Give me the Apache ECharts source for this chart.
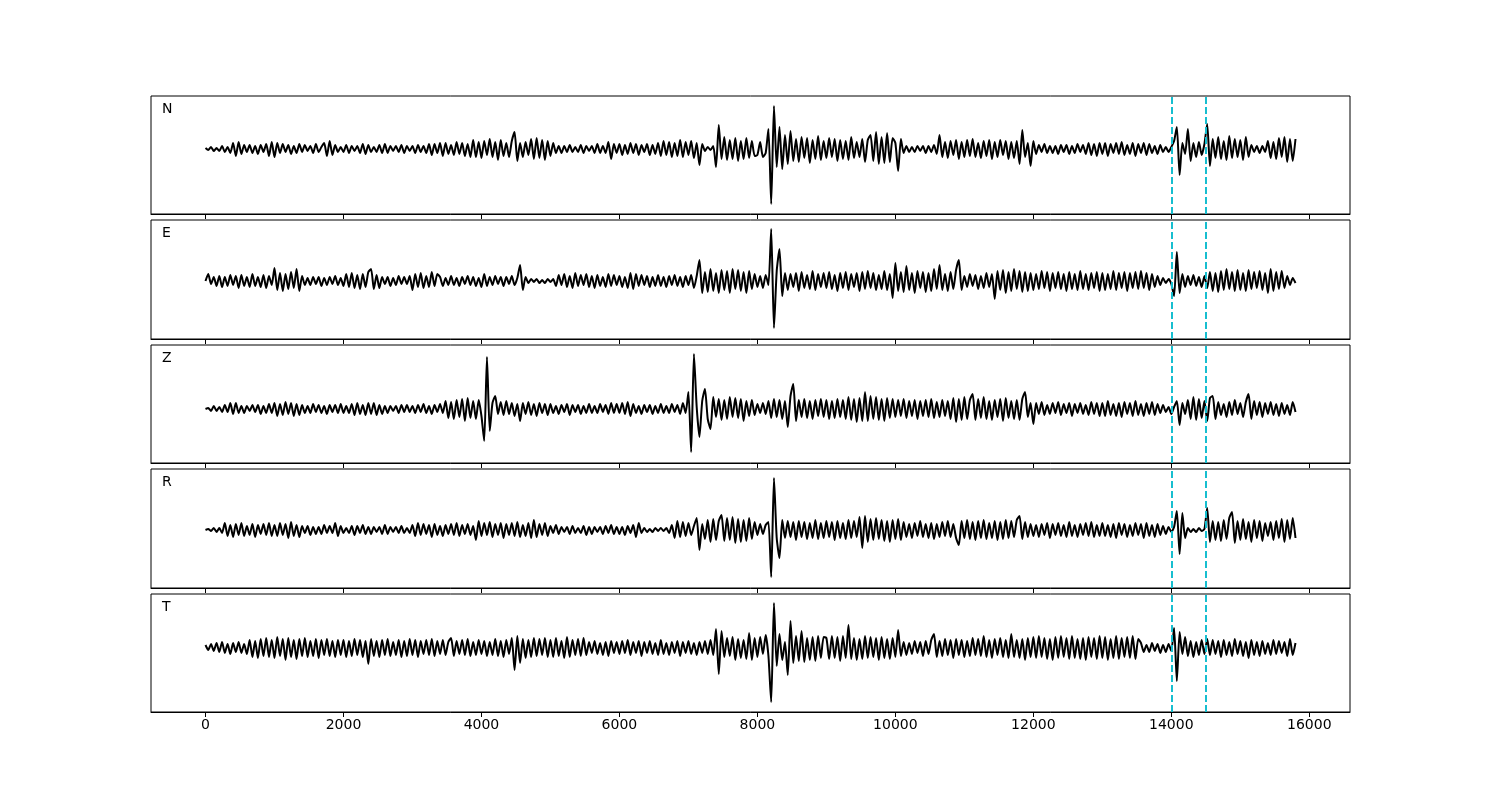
<!DOCTYPE html>
<html><head><meta charset="utf-8">
<script src="https://cdn.jsdelivr.net/npm/echarts@6/dist/echarts.min.js"></script>
<style>html,body{margin:0;padding:0;background:#fff}#c{width:1500px;height:800px}</style>
</head><body><div id="c"></div>
<script>
// sample spacing of the traces (x units)
const step = 40;
const channels = ['N', 'E', 'Z', 'R', 'T'];
const markers = [14000, 14500];
const xTicks = [0, 2000, 4000, 6000, 8000, 10000, 12000, 14000, 16000];

const traceN = [
 1,-1,2,-2,1, -2,3,-3,2,-4, 6,-7,7,-5,4, -3,4,-4,3,-5, 4,-3,5,-7,7,
 -8,6,-4,5,-3, 4,-5,3,-4,5, -3,4,-2,3,-4, 5,-3,2,6,-7, 8,-6,4,-3,2,
 -3,4,-4,3,-2, 3,-4,5,-5,4, -3,2,-3,4,-4, 5,-4,3,-2,3, -3,4,-4,3,-2,
 3,-4,4,-3,3, -4,5,-6,5,-4, 6,-7,6,-5,4, -6,7,-5,6,-7, 5,-8,9,-8,7,
 -9,8,-6,10,-8, 7,-11,9,-7,6, -8,8,17,-12,6, -8,7,-6,10,-10, 11,-9,9,-11,8,
 -7,6,-4,3,-4, 3,-3,4,-3,2, -3,4,-4,3,-2, 3,-4,5,-4,3, -4,7,-10,5,-4,
 5,-6,4,-5,6, -4,5,-6,4,-3, 5,-6,4,-5,6, -7,8,-6,7,-8, 6,-7,9,-8,7,
 -6,8,-9,6,-16, 5,-2,2,-1,3, -18,24,-10,12,-11, 9,-10,11,-12,8, -10,11,-9,8,-7,
 -6,7,-8,-4,20, -55,43,-18,22,-20, 14,-15,18,-12,10, -13,12,-9,11,-14, 9,-10,13,-11,8,
 -9,11,-8,10,-12, 9,-10,8,-11,12, -9,7,-8,10,-13, 9,14,-12,17,-15, 12,-14,16,-13,11,
 6,-22,10,-4,3, -3,2,-3,3,-2, 3,-4,3,-3,4, -5,14,-8,7,-9, 8,-6,9,-10,7,
 -8,9,-7,10,-8, 6,-9,8,-7,9, -10,7,-8,9,-6, 8,-10,7,-9,8, -15,19,-8,6,-17,
 8,-5,4,-3,5, -4,3,-4,3,-5, 4,-3,4,-5,3, -4,5,-3,4,-5, 6,-6,5,-7,6,
 -5,6,-7,5,-4, 6,-5,7,-6,4, -5,6,-7,5,-4, 6,-6,5,-4,3, -5,4,-3,2,-3,
 2,8,22,-26,6, -5,20,-12,6,-8, 7,-6,5,25,-17, 10,-9,12,-10,8, -11,13,-9,10,-8,
 9,-11,12,-8,4, -3,3,-4,3,-3, 8,-9,7,-10,11, -8,12,-13,10,-12, 10
];

const traceE = [
 0,7,-3,4,-5, 5,-6,4,-5,6, -4,5,-7,6,-5, 4,-6,7,-5,4, -6,6,-7,5,-4,
 13,-9,8,-10,7, -8,9,-7,12,-10, 5,-4,3,-4,4, -3,4,-5,3,-4, 4,-3,5,-4,3,
 -5,7,-6,8,-7, 6,-8,7,-6,9, 12,-8,6,-7,4, -3,4,-5,3,-4, 5,-3,4,-3,5,
 -9,7,-6,8,-7, 5,-6,9,-5,7, 4,-5,3,-4,5, -4,3,-5,4,-3, 5,-4,4,-5,3,
 -6,7,-5,4,-4, 5,-3,4,-5,4, -3,5,-4,3,16, -9,4,-2,2,-1, 2,-2,1,-2,2,
 -1,2,-5,6,-4, 7,-6,5,-7,8, -5,6,-4,7,-6, 5,-7,6,-5,4, -6,7,-5,6,-4,
 5,-6,4,-7,8, -8,7,-5,6,-4, 5,-6,4,-5,6, -5,4,-6,5,-4, 6,-5,4,-6,5,
 -4,6,-7,5,21, -12,9,-11,12,-10, 8,-12,11,-9,10, -12,12,-8,11,-10, 9,-12,10,-8,7,
 -6,5,-7,6,-4, 52,-47,10,32,-15, 8,-9,7,-6,8, -10,9,-7,6,-8, 10,-9,7,-6,8,
 -7,9,-8,6,-10, 8,-7,9,-9,7, -6,8,-10,9,-8, 10,-7,8,-9,6, -8,10,-9,7,-17,
 18,-10,9,-11,15, -9,8,-12,10,-7, 9,-11,8,-10,12, -8,16,-9,7,-10, 9,-8,11,21,-9,
 5,-6,7,-5,6, -8,5,-7,8,-6, 7,-18,10,-9,11, -12,9,-10,12,-8, 10,-11,9,-10,8,
 -9,7,-8,10,-7, 9,-10,8,-7,9, -8,7,-10,9,-8, 7,-9,10,-8,7, -9,8,-7,9,-10,
 8,-9,7,-8,10, -9,8,-7,9,-10, 8,-7,9,-8,10, -7,8,-9,7,-6, 5,-4,3,-2,2,
 -3,-15,29,-12,7, -6,5,-4,6,-5, 4,-6,5,-7,9, -10,8,-11,10,-9, 12,-8,9,-10,11,
 -9,8,-10,11,-8, 9,-7,10,-9,8, -12,12,-10,9,-8, 10,-7,5,-4,3, -2
];

const traceZ = [
 0,1,-2,3,-2, 2,-3,4,-3,6, -5,6,-4,3,-4, 3,-2,4,-3,4, -5,3,-4,5,-4,
 6,-7,5,-6,7, -5,6,-7,5,-6, 4,-4,3,-4,5, -3,4,-4,3,-5, 4,-3,4,-4,5,
 -4,3,-4,5,-6, 6,-5,4,-6,6, -5,6,-6,4,-5, 3,-4,3,-2,3, -4,4,-3,4,-3,
 3,-4,4,-3,5, -4,3,-5,4,-3, 5,-4,8,-9,7, -10,9,-8,10,-12, 11,-9,8,-10,9,
 -7,-32,52,-22,6, 13,-5,7,-6,8, -5,6,-7,5,-12, 6,-5,7,-6,5, -7,6,-4,5,-6,
 5,-4,3,-5,4, -3,5,-6,4,-3, 4,-5,3,-4,5, -4,3,-4,5,-3, 4,-5,6,-4,5,
 -4,6,-5,7,-7, 5,-4,3,-5,4, -3,4,-5,3,-4, 5,-4,3,-4,5, -3,4,-5,6,-4,
 17,-43,55,2,-28, 8,20,-10,-20,12, -8,10,-11,9,-10, 12,-8,11,-9,10, -12,8,-7,9,-6,
 5,-4,6,-5,8, -9,10,-8,9,-10, 8,-18,13,25,-12, 9,-8,10,-9,8, -10,9,-7,10,-8,
 9,-10,8,-9,10, -8,9,-10,12,-11, 10,-13,11,-12,17, -12,13,-10,12,-11, 10,-12,11,-9,10,
 -8,9,-7,10,-9, 8,-7,9,-10,8, -7,9,-8,10,-9, 7,-8,9,-7,8, -10,11,-13,10,-11,
 12,-10,9,15,-11, 10,-9,12,-10,8, -11,9,-8,10,-12, 11,-9,8,-10,9, -11,10,17,-8,6,
 -15,6,-5,7,-6, 4,-5,6,-4,7, -6,5,-4,6,-7, 5,-4,6,-5,4, -6,7,-5,6,-7,
 6,-7,8,-6,5, -7,6,-8,7,-5, 6,-7,8,-6,5, -7,6,-5,7,-6, 5,-4,4,-3,2,
 -5,2,8,-16,6, -5,9,-10,12,-11, 10,-9,8,-12,11, 13,-10,7,-6,5, -8,7,-6,9,-5,
 6,-8,7,15,-10, 8,-6,7,-8,6, -5,7,-6,5,-7, 6,-5,4,-6,7, -3
];

const traceR = [
 0,1,-1,2,-2, 2,-3,7,-6,5, -7,6,-5,7,-6, 4,-5,6,-7,5, -4,6,-5,7,-6,
 5,-6,7,-5,6, -8,8,-6,5,-7, 4,-3,4,-5,3, -4,3,-4,5,-3, 4,-3,7,-6,4,
 -3,2,-3,4,-5, 4,-3,5,-4,3, -4,3,-2,3,-4, 5,-4,3,-2,3, -3,4,-3,2,-3,
 5,-6,7,-5,6, -4,5,-7,6,-5, 4,-6,5,-4,6, -5,7,-6,5,-4, 6,-5,4,-10,9,
 -6,7,-5,8,-7, 6,-5,7,-8,6, -5,7,-6,8,-7, 5,-6,7,-8,10, -7,6,-5,7,-6,
 4,-3,5,-4,3, -2,3,-4,4,-3, 2,-3,4,-5,3, -4,3,-2,3,-4, 4,-3,5,-4,3,
 -4,3,-5,4,-3, 5,-7,7,-3,2, -2,1,-2,2,-1, 2,-1,2,-3,5, -8,9,-7,8,-6,
 7,-5,4,12,-20, 6,-9,10,-12,11, -10,9,15,-11,12, -10,13,-13,11,-12, 10,-11,12,-9,8,
 -5,6,-4,5,8, -47,52,-8,-28,10, -8,9,-7,8,-10, 9,-7,8,-9,7, -8,10,-9,7,-8,
 9,-7,8,-10,9, -8,7,-9,10,-8, 9,-7,13,-18,14, -12,11,-10,12,-9, 10,-11,9,-12,10,
 -9,11,-10,8,-7, 6,-8,7,-6,9, -7,6,-8,7,-9, 6,-7,8,-6,9, -7,6,-8,-15,9,
 -8,10,-9,8,-10, 9,-8,10,-9,7, -8,9,-10,8,-9, 10,-8,9,-7,10, 14,-9,8,-7,6,
 -6,5,-7,6,-5, 7,-8,6,-5,7, -6,5,-7,8,-6, 5,-7,6,-5,7, -6,8,-7,5,-6,
 7,-6,5,-7,6, -8,7,-5,6,-7, 5,-6,7,-5,6, -8,7,-6,5,-7, 6,-5,4,-4,3,
 -2,3,19,-24,17, -8,2,-2,1,-2, 2,-1,1,22,-12, 9,-10,8,-11,10, -9,12,18,-13,9,
 -10,11,-9,8,-12, 10,-8,9,-11,7, -6,8,-10,9,-8, 11,-12,10,-9,12, -8
];

const traceT = [
 3,-2,4,-3,5, -4,6,-5,4,-6, 5,-4,6,-5,4, -6,8,-9,7,-10, 9,-8,10,-9,8,
 -10,11,-8,9,-12, 10,-9,8,-11,9, -8,10,-9,7,-8, 9,-10,8,-7,9, -8,7,-9,8,-7,
 8,-9,7,-8,9, -7,8,-9,7,-16, 9,-8,7,-9,8, -7,9,-8,6,-7, 8,-9,7,-8,9,
 -7,8,-9,7,-6, 8,-7,9,-8,7, -6,8,-7,6,10, -8,7,-6,8,-7, 9,-8,6,-7,8,
 -6,7,-8,6,-7, 9,-8,7,-9,8, -6,10,-22,12,-15, 9,-10,8,-9,10, -8,9,-7,10,-9,
 8,-9,10,-8,7, -10,11,-9,8,-7, 9,-8,10,-7,6, -5,7,-6,5,-7, 6,-8,7,-5,6,
 -6,7,-5,8,-7, 6,-5,7,-8,6, -5,7,-6,5,-7, 8,-6,5,-7,6, -5,7,-8,6,-5,
 7,-6,5,-7,6, -5,7,-6,8,-7, 19,-26,17,-9,10, -8,11,-12,9,-10, 8,-11,15,-12,10,
 -9,11,-6,13,-8, -54,45,-18,14,-12, 6,-27,27,-15,12, -13,17,-14,10,-12, 11,-13,12,-10,11,
 10,-11,12,-10,11, -13,12,-10,23,-11, 10,-12,9,-11,12, -10,11,-9,10,-12, 11,-10,9,-11,10,
 -9,18,-8,6,-7, 5,-6,7,-5,6, -8,7,-6,8,14, -9,7,-8,9,-7, 8,-10,9,-7,8,
 -9,7,-8,10,-7, 9,-8,12,-9,8, -10,9,-7,10,-9, 8,-10,14,-9,8, -10,9,-12,10,-9,
 11,-10,12,-9,10, -11,9,-12,11,-10, 12,-9,10,-11,12, -10,9,-11,10,-12, 11,-9,10,-11,12,
 -10,11,-12,9,-10, 12,-11,10,-9,11, -10,12,-11,9,5, -4,3,-4,5,-3, 4,-5,3,-4,4,
 -3,20,-33,16,-6, 11,-8,7,-9,6, -7,8,-6,9,-7, 8,-6,7,-9,8, -7,6,-8,9,-6,
 7,-8,6,-10,8, -7,6,-8,7,-6, 5,-7,8,-6,7, -5,6,-8,9,-7, 5
];

const traces = [traceN, traceE, traceZ, traceR, traceT];

// layout (pixels)
const tops = [96, 220, 345, 469, 594];
const heights = [118, 119, 118, 119, 118];
const yRanges = [[-65, 53], [-58, 61], [-54, 64], [-58, 61], [-64, 54]];
const FONT = 'DejaVu Sans';

const grids = [], xAxes = [], yAxes = [], series = [], graphics = [];
channels.forEach((ch, k) => {
  grids.push({left: 151, top: tops[k], width: 1199, height: heights[k], show: true,
    borderColor: '#000', borderWidth: 1, backgroundColor: 'transparent'});
  xAxes.push({gridIndex: k, type: 'value', min: -790, max: 16590, position: 'bottom',
    axisLine: {show: true, onZero: false, lineStyle: {color: '#000', width: 1}},
    splitLine: {show: false},
    axisTick: {show: true, inside: false, customValues: xTicks, length: 5, lineStyle: {color: '#000', width: 1}},
    axisLabel: {show: k === 4, customValues: xTicks, color: '#000', fontSize: 14, margin: 6,
      fontFamily: FONT, formatter: v => String(v)}});
  yAxes.push({gridIndex: k, type: 'value', min: yRanges[k][0], max: yRanges[k][1],
    axisLine: {show: false, onZero: false}, axisTick: {show: false}, axisLabel: {show: false}, splitLine: {show: false}});
  series.push({type: 'line', xAxisIndex: k, yAxisIndex: k,
    data: traces[k].map((v, i) => [i * step, v]),
    symbol: 'none', showSymbol: false, smooth: 0.2, silent: true,
    lineStyle: {color: '#000', width: 2},
    markLine: {silent: true, symbol: ['none', 'none'], label: {show: false},
      lineStyle: {color: '#17becf', type: [7, 3], width: 2},
      emphasis: {disabled: true},
      data: markers.map(v => ({xAxis: v}))}});
  graphics.push({type: 'text', left: 162, top: tops[k] + 6,
    style: {text: ch, fill: '#000', font: '14px "DejaVu Sans"'}});
});

const chart = echarts.init(document.getElementById('c'), null, {renderer: 'canvas'});
chart.setOption({animation: false, backgroundColor: '#fff',
  grid: grids, xAxis: xAxes, yAxis: yAxes, series: series, graphic: graphics});
</script></body></html>
